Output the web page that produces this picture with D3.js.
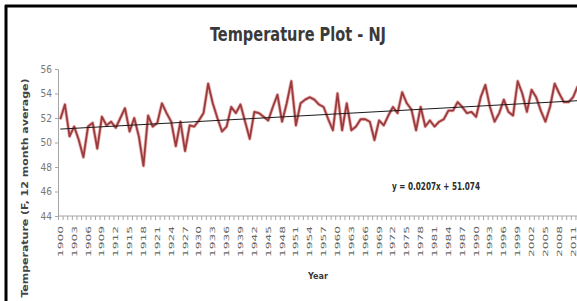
<!DOCTYPE html>
<html>
<head>
<meta charset="utf-8">
<script src="https://cdn.jsdelivr.net/npm/d3@7/dist/d3.min.js"></script>
<style>
  body { margin: 0; background: #fff; }
  svg { display: block; }
  .narrow { font-family: "Liberation Sans Narrow", "DejaVu Sans Condensed", "Arial Narrow", sans-serif; }
</style>
</head>
<body>
<div id="chart"></div>
<script>
// years 1900 - 2012 (category axis)
var years = d3.range(1900, 2013);

// 12 month average temperature
var temps = [
  51.9, 53.1, 50.5, 51.3, 50.2, 48.8, 51.3, 51.6, 49.5, 52.1,
  51.4, 51.7, 51.2, 52.0, 52.8, 50.9, 52.0, 50.5, 48.1, 52.2,
  51.3, 51.6, 53.2, 52.4, 51.7, 49.7, 51.7, 49.3, 51.4, 51.3,
  51.8, 52.4, 54.8, 53.2, 52.0, 50.9, 51.3, 52.9, 52.4, 53.1,
  51.7, 50.3, 52.5, 52.4, 52.1, 51.8, 52.9, 53.9, 51.7, 53.2,
  55.0, 51.4, 53.2, 53.5, 53.7, 53.5, 53.1, 52.9, 51.9, 51.0,
  54.0, 51.0, 53.2, 51.0, 51.3, 51.9, 51.9, 51.7, 50.2, 51.8,
  51.4, 52.2, 52.9, 52.4, 54.1, 53.2, 52.7, 51.0, 52.9, 51.3,
  51.8, 51.3, 51.7, 51.9, 52.6, 52.6, 53.3, 52.9, 52.4, 52.5,
  52.1, 53.7, 54.7, 52.9, 51.7, 52.4, 53.5, 52.5, 52.2, 55.0,
  54.0, 52.5, 54.3, 53.7, 52.6, 51.7, 52.9, 54.8, 54.0, 53.3,
  53.3, 53.7, 54.6
];

var yTicks = [44, 46, 48, 50, 52, 54, 56];
var labelYears = years.filter(function(y) { return (y - 1900) % 3 == 0; });

// linear trendline from the chart: y = 0.0207x + 51.074 (x = 1..n)
var trendSlope = 0.0207, trendIntercept = 51.074;

var chartTitle = "Temperature Plot - NJ";
var yTitle = "Temperature (F, 12 month average)";
var xTitle = "Year";
var eqText = "y = 0.0207x + 51.074";

var outerWidth = 577, outerHeight = 301;
var plot = {left: 58, top: 69, bottom: 216, bandWidth: 4.62};

var svg = d3.select("#chart")
    .append("svg")
    .attr("width", outerWidth)
    .attr("height", outerHeight);

// frame (black border at top and left)
svg.append("line")
    .attr("x1", 5).attr("x2", outerWidth)
    .attr("y1", 6).attr("y2", 6)
    .attr("stroke", "#000").attr("stroke-width", 3);
svg.append("line")
    .attr("x1", 6).attr("x2", 6)
    .attr("y1", 5).attr("y2", outerHeight)
    .attr("stroke", "#000").attr("stroke-width", 3);

var xScale = d3.scaleBand()
    .domain(years)
    .range([plot.left, plot.left + plot.bandWidth * years.length]);

var yScale = d3.scaleLinear()
    .domain([44, 56])
    .range([plot.bottom, plot.top]);

// title
svg.append("text")
    .attr("class", "narrow")
    .attr("x", 298).attr("y", 41)
    .attr("text-anchor", "middle")
    .attr("font-size", 19).attr("font-weight", "bold")
    .attr("fill", "#3a3a3a")
    .attr("textLength", 176).attr("lengthAdjust", "spacingAndGlyphs")
    .text(chartTitle);

// y axis
var yAxis = svg.append("g")
    .attr("transform", "translate(" + plot.left + ",0)")
    .call(d3.axisLeft(yScale).tickValues(yTicks).tickSize(3).tickPadding(3));
yAxis.select(".domain").attr("stroke", "#a6a6a6");
yAxis.selectAll(".tick line").attr("stroke", "#a6a6a6");
yAxis.selectAll(".tick text")
    .attr("class", "narrow")
    .attr("font-size", 10).attr("fill", "#777");

// x axis line
svg.append("line")
    .attr("x1", plot.left).attr("x2", xScale.range()[1])
    .attr("y1", plot.bottom).attr("y2", plot.bottom)
    .attr("stroke", "#a6a6a6");

// tick marks between categories
svg.selectAll(".xtick")
    .data(years)
    .enter()
    .append("line")
    .attr("class", "xtick")
    .attr("x1", function(d) { return xScale(d) + 0.5; })
    .attr("x2", function(d) { return xScale(d) + 0.5; })
    .attr("y1", plot.bottom).attr("y2", plot.bottom + 4)
    .attr("stroke", "#a6a6a6");

// rotated year labels
svg.selectAll(".xlabel")
    .data(labelYears)
    .enter()
    .append("text")
    .attr("class", "xlabel narrow")
    .attr("transform", function(d) {
        return "translate(" + (xScale(d) + xScale.bandwidth() / 2 + 2.5) + "," + (plot.bottom + 10) + ") rotate(-90)";
    })
    .attr("text-anchor", "end")
    .attr("font-size", 7).attr("fill", "#666")
    .attr("textLength", 31).attr("lengthAdjust", "spacingAndGlyphs")
    .text(function(d) { return d; });

// temperature line
var line = d3.line()
    .x(function(d, i) { return xScale(years[i]) + xScale.bandwidth() / 2; })
    .y(function(d) { return yScale(d); });

svg.append("path")
    .datum(temps)
    .attr("d", line)
    .attr("fill", "none")
    .attr("stroke", "#eab0b0")
    .attr("stroke-width", 3.4)
    .attr("stroke-linejoin", "round");
svg.append("path")
    .datum(temps)
    .attr("d", line)
    .attr("fill", "none")
    .attr("stroke", "#9a3b3d")
    .attr("stroke-width", 1.8)
    .attr("stroke-linejoin", "round");

// trendline
var n = temps.length;
var trend = [
    {year: years[0], v: trendSlope * 1 + trendIntercept},
    {year: years[n - 1], v: trendSlope * n + trendIntercept}
];
svg.append("path")
    .datum(trend)
    .attr("d", d3.line()
        .x(function(d) { return xScale(d.year) + xScale.bandwidth() / 2; })
        .y(function(d) { return yScale(d.v); }))
    .attr("stroke", "#1a1a1a")
    .attr("stroke-width", 1);

// equation label
svg.append("text")
    .attr("class", "narrow")
    .attr("x", 436).attr("y", 190)
    .attr("text-anchor", "middle")
    .attr("font-size", 10).attr("font-weight", "bold")
    .attr("fill", "#2b2b2b")
    .attr("textLength", 88).attr("lengthAdjust", "spacingAndGlyphs")
    .text(eqText);

// axis titles
svg.append("text")
    .attr("class", "narrow")
    .attr("x", 318).attr("y", 279)
    .attr("text-anchor", "middle")
    .attr("font-size", 9).attr("font-weight", "bold")
    .attr("fill", "#3a3a3a")
    .text(xTitle);

svg.append("text")
    .attr("class", "narrow")
    .attr("transform", "translate(28,188) rotate(-90)")
    .attr("text-anchor", "middle")
    .attr("font-size", 9).attr("font-weight", "bold")
    .attr("fill", "#444")
    .attr("textLength", 219).attr("lengthAdjust", "spacingAndGlyphs")
    .text(yTitle);
</script>
</body>
</html>
